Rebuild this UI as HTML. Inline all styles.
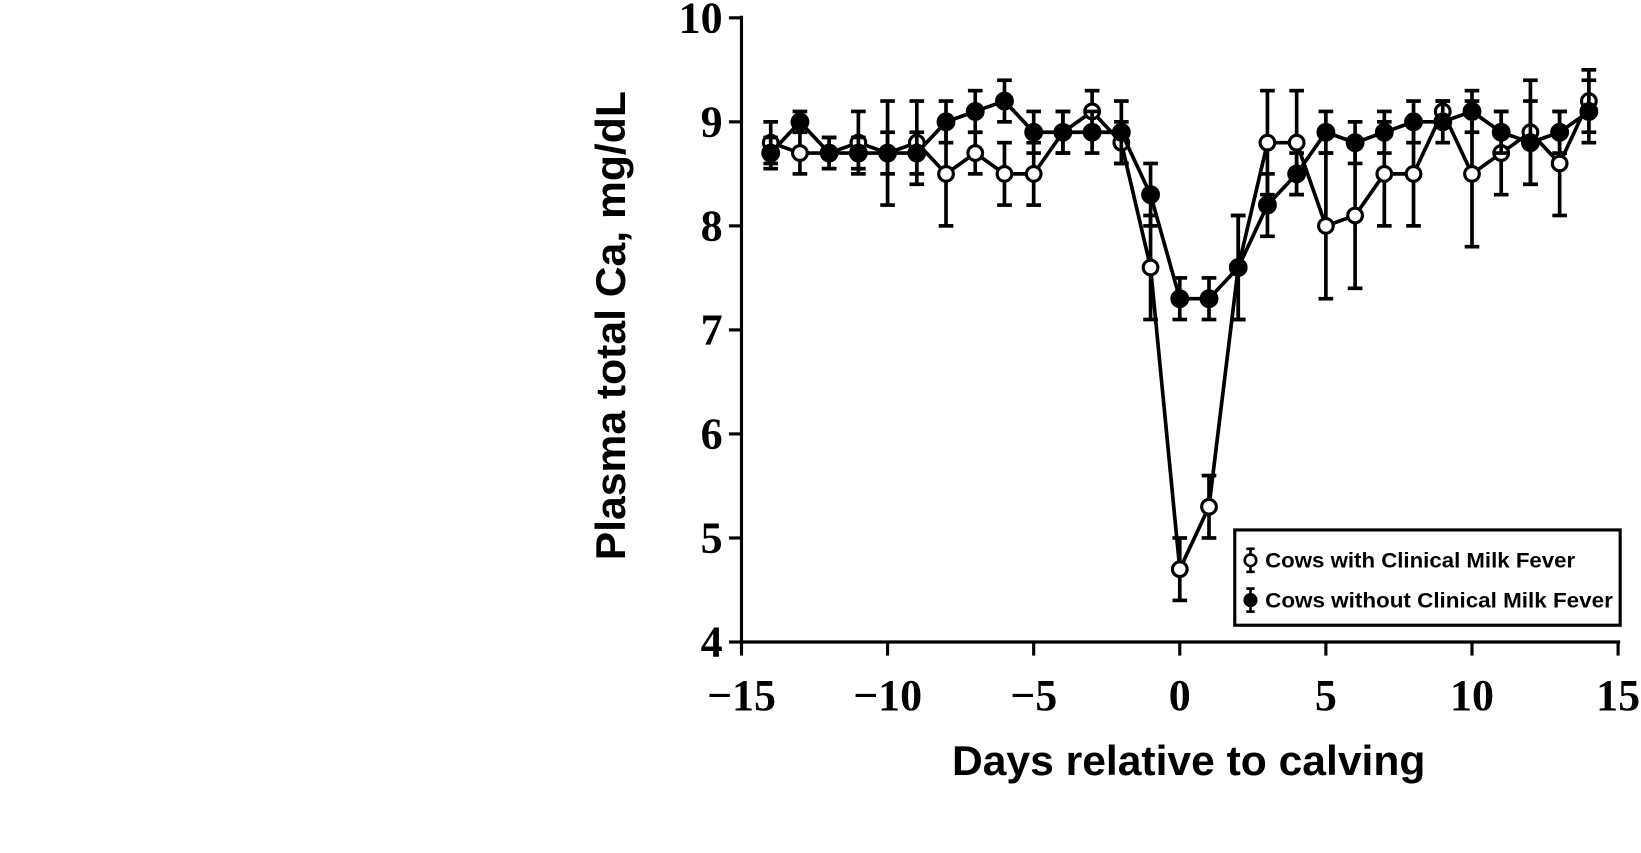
<!DOCTYPE html>
<html><head><meta charset="utf-8"><style>
html,body{margin:0;padding:0;background:#fff;}
svg{display:block;}
</style></head><body>
<svg id="s" width="1641" height="853" xmlns="http://www.w3.org/2000/svg">
<g transform="scale(1.0473)" id="root">
<g stroke="#000" stroke-width="3" fill="none">
<line x1="708" y1="15" x2="708" y2="614"/>
<line x1="706" y1="613" x2="1547" y2="613"/>
</g>
<g font-family="Liberation Serif, serif" font-weight="bold" font-size="42" text-anchor="end" id="yt"></g>
<g font-family="Liberation Serif, serif" font-weight="bold" font-size="42" text-anchor="middle" id="xt"></g>
<text x="0" y="0" transform="translate(597,311) rotate(-90)" font-family="Liberation Sans, sans-serif" font-weight="bold" font-size="40" text-anchor="middle" textLength="448" lengthAdjust="spacingAndGlyphs">Plasma total Ca, mg/dL</text>
<text x="1135" y="740" font-family="Liberation Sans, sans-serif" font-weight="bold" font-size="40" text-anchor="middle" textLength="452" lengthAdjust="spacingAndGlyphs">Days relative to calving</text>
<g id="data"></g>
<rect x="1179" y="506" width="368" height="91" fill="#fff" stroke="#000" stroke-width="3"/>
<g stroke="#000" stroke-width="2.5">
<line x1="1194" y1="524" x2="1194" y2="546"/><line x1="1190" y1="524" x2="1198" y2="524"/><line x1="1190" y1="546" x2="1198" y2="546"/>
<circle cx="1194" cy="535" r="5.5" fill="#fff"/>
<line x1="1194" y1="562" x2="1194" y2="584"/><line x1="1190" y1="562" x2="1198" y2="562"/><line x1="1190" y1="584" x2="1198" y2="584"/>
<circle cx="1194" cy="573" r="5.5" fill="#000"/>
</g>
<g font-family="Liberation Sans, sans-serif" font-weight="bold" font-size="20">
<text x="1208" y="542" textLength="296" lengthAdjust="spacingAndGlyphs">Cows with Clinical Milk Fever</text>
<text x="1208" y="580" textLength="332" lengthAdjust="spacingAndGlyphs">Cows without Clinical Milk Fever</text>
</g>
</g>
</svg>
<script>
var NS="http://www.w3.org/2000/svg";
function X(d){return 708+(d+15)*27.9;}
function Y(v){return 613-(v-4)*99.33;}
function el(p,t,a){var e=document.createElementNS(NS,t);for(var k in a)e.setAttribute(k,a[k]);p.appendChild(e);return e;}
var yt=document.getElementById('yt'),xt=document.getElementById('xt'),ax=document.getElementById('root');
for(var v=4;v<=10;v++){el(ax,'line',{x1:696,x2:708,y1:Y(v),y2:Y(v),stroke:'#000','stroke-width':3});var t=el(yt,'text',{x:690,y:Y(v)+14});t.textContent=v;}
[-15,-10,-5,0,5,10,15].forEach(function(d){el(ax,'line',{x1:X(d),x2:X(d),y1:613,y2:626,stroke:'#000','stroke-width':3});var t=el(xt,'text',{x:X(d),y:678});t.textContent=(d<0?'\u2212'+(-d):d);});
var open=[[8.8,.2],[8.7,.2],[8.7,.15],[8.8,.3],[8.7,.5],[8.8,.4],[8.5,.5],[8.7,.2],[8.5,.3],[8.5,.3],[8.9,.2],[9.1,.2],[8.8,.2],[7.6,.5],[4.7,.3],[5.3,.3],[7.6,.5],[8.8,.5],[8.8,.5],[8.0,.7],[8.1,.7],[8.5,.5],[8.5,.5],[9.1,.1],[8.5,.7],[8.7,.4],[8.9,.5],[8.6,.5],[9.2,.3]];
var fill=[[8.7,.15],[9.0,.1],[8.7,.15],[8.7,.15],[8.7,.2],[8.7,.2],[9.0,.2],[9.1,.2],[9.2,.2],[8.9,.2],[8.9,.2],[8.9,.2],[8.9,.3],[8.3,.3],[7.3,.2],[7.3,.2],[7.6,.5],[8.2,.3],[8.5,.2],[8.9,.2],[8.8,.2],[8.9,.2],[9.0,.2],[9.0,.2],[9.1,.2],[8.9,.2],[8.8,.4],[8.9,.2],[9.1,.3]];
var g=document.getElementById('data');
function series(arr,f){var pts=arr.map(function(p,i){return X(i-14)+','+Y(p[0]);}).join(' ');
el(g,'polyline',{points:pts,fill:'none',stroke:'#000','stroke-width':3.5});
arr.forEach(function(p,i){var x=X(i-14),y1=Y(p[0]+p[1]),y2=Y(p[0]-p[1]);
el(g,'line',{x1:x,x2:x,y1:y1,y2:y2,stroke:'#000','stroke-width':3.5});
el(g,'line',{x1:x-7,x2:x+7,y1:y1,y2:y1,stroke:'#000','stroke-width':3.5});
el(g,'line',{x1:x-7,x2:x+7,y1:y2,y2:y2,stroke:'#000','stroke-width':3.5});});
arr.forEach(function(p,i){el(g,'circle',{cx:X(i-14),cy:Y(p[0]),r:f?8.5:7,fill:f?'#000':'#fff',stroke:'#000','stroke-width':f?1:3});});}
series(open,false);series(fill,true);
</script>
</body></html>
